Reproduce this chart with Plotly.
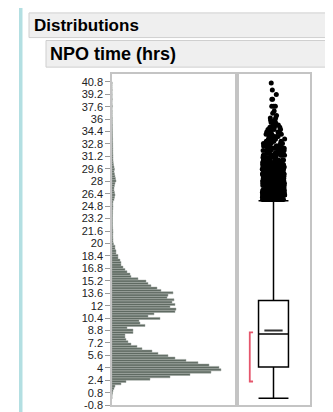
import plotly.graph_objects as go

# ---------------- data ----------------
title_main = "Distributions"
title_var = "NPO time (hrs)"

tick_vals = [-0.8, 0.8, 2.4, 4, 5.6, 7.2, 8.8, 10.4, 12, 13.6, 15.2, 16.8, 18.4, 20,
             21.6, 23.2, 24.8, 26.4, 28, 29.6, 31.2, 32.8, 34.4, 36, 37.6, 39.2, 40.8]
tick_text = ["-0.8", "0.8", "2.4", "4", "5.6", "7.2", "8.8", "10.4", "12", "13.6", "15.2",
             "16.8", "18.4", "20", "21.6", "23.2", "24.8", "26.4", "28", "29.6", "31.2",
             "32.8", "34.4", "36", "37.6", "39.2", "40.8"]

bin_start = 0.0
bin_width = 0.3
hist_counts = [
    0, 0, 5, 10, 20, 30, 90, 140, 380, 580,
    780, 990, 1090, 1070, 970, 860, 740, 630, 560, 460,
    400, 300, 250, 190, 160, 140, 130, 130, 210, 210,
    150, 330, 280, 270, 480, 360, 420, 630, 640, 580,
    630, 600, 620, 550, 560, 610, 490, 450, 390, 360,
    340, 260, 190, 180, 150, 130, 110, 90, 90, 80,
    60, 60, 40, 40, 30, 30, 15, 10, 10, 8,
    8, 10, 8, 6, 5, 5, 5, 5, 5, 6,
    6, 8, 10, 8, 10, 20, 25, 30, 25, 20,
    20, 25, 30, 40, 35, 30, 25, 20, 25, 20,
    15, 12, 10, 10, 10, 8, 8, 8, 7, 7,
    6, 6, 5, 5, 4, 4, 3, 3, 2, 2,
    2, 1, 1, 1, 0, 3, 0, 0, 2, 0,
    1, 0, 1, 0, 0, 1,
]

# box plot summary (hrs)
box_min = 0.1
box_q1 = 4.1
box_median = 8.35
box_q3 = 12.65
box_upper_whisker = 25.5
box_mean = 8.8
shortest_half = [2.24, 8.57]

# ---------------- derived ----------------
bin_centers = [bin_start + bin_width * (i + 0.5) for i in range(len(hist_counts))]
outliers = []
for c, n in zip(bin_centers, hist_counts):
    if c > box_upper_whisker:
        outliers.extend([c] * n)

W, H = 333, 412
def px(x):
    return x / W
def py(y):
    return 1 - y / H

panel_l, panel_mid, panel_r = 104, 229, 302
panel_t, panel_b = 67, 403
border = "#c4c4c4"
font_fam = "Liberation Sans, Arial, sans-serif"

fig = go.Figure()

fig.add_trace(go.Bar(
    y=bin_centers, x=hist_counts, orientation="h",
    marker=dict(color="#5f6a62", line=dict(color="#9aa29c", width=0.5)),
    xaxis="x", yaxis="y", hoverinfo="skip", showlegend=False,
))

fig.add_trace(go.Box(
    x=[0], q1=[box_q1], median=[box_median], q3=[box_q3],
    lowerfence=[box_min], upperfence=[box_upper_whisker],
    width=0.82, whiskerwidth=1, boxpoints=False,
    line=dict(color="black", width=1.5), fillcolor="white",
    xaxis="x2", yaxis="y2", hoverinfo="skip", showlegend=False,
))

fig.add_trace(go.Box(
    y=outliers, x=[0] * len(outliers), width=0.82,
    boxpoints="all", jitter=0.75, pointpos=0,
    marker=dict(color="black", size=5, line=dict(width=0)),
    line=dict(width=0, color="rgba(0,0,0,0)"), fillcolor="rgba(0,0,0,0)",
    xaxis="x2", yaxis="y2", hoverinfo="skip", showlegend=False,
))

# mean mark
fig.add_trace(go.Scatter(
    x=[-0.25, 0.25], y=[box_mean, box_mean], mode="lines",
    line=dict(color="#333333", width=2),
    xaxis="x2", yaxis="y2", hoverinfo="skip", showlegend=False,
))

# shortest half bracket
sx0, sx1 = -0.56, -0.65
fig.add_trace(go.Scatter(
    x=[sx0, sx1, sx1, sx0],
    y=[shortest_half[1], shortest_half[1], shortest_half[0], shortest_half[0]],
    mode="lines", line=dict(color="#e5566c", width=1.8),
    xaxis="x2", yaxis="y2", hoverinfo="skip", showlegend=False,
))

ydom = [py(panel_b), py(panel_t)]
yrange = [-0.8, 41.8]

fig.update_layout(
    width=W, height=H,
    margin=dict(l=0, r=0, t=0, b=0),
    paper_bgcolor="white", plot_bgcolor="white",
    bargap=0.1, boxmode="overlay",
    xaxis=dict(domain=[px(panel_l), px(panel_mid)], range=[0, 1250],
               showgrid=False, zeroline=False, showticklabels=False, ticks="",
               showline=True, mirror=True, linecolor=border, linewidth=1.5,
               anchor="y", fixedrange=True),
    yaxis=dict(domain=ydom, range=yrange, tickvals=tick_vals, ticktext=tick_text,
               ticks="outside", ticklen=5, tickcolor="#999999", tickwidth=1,
               tickfont=dict(family=font_fam, size=11, color="#222222"),
               showgrid=False, zeroline=False,
               showline=True, mirror=True, linecolor=border, linewidth=1.5,
               anchor="x", fixedrange=True),
    xaxis2=dict(domain=[px(panel_mid), px(panel_r)], range=[-1, 1],
                showgrid=False, zeroline=False, showticklabels=False, ticks="",
                showline=True, mirror=True, linecolor=border, linewidth=1.5,
                anchor="y2", fixedrange=True),
    yaxis2=dict(domain=ydom, range=yrange, matches="y",
                showgrid=False, zeroline=False, showticklabels=False, ticks="",
                showline=True, mirror=True, linecolor=border, linewidth=1.5,
                anchor="x2", fixedrange=True),
    shapes=[
        dict(type="rect", xref="paper", yref="paper", x0=px(11), x1=px(14.5), y0=0, y1=1,
             fillcolor="#b3dfe2", line=dict(width=0), layer="below"),
        dict(type="rect", xref="paper", yref="paper", x0=px(21), x1=px(325), y0=py(30), y1=py(5),
             fillcolor="#efefef", line=dict(color="#cfcfcf", width=1)),
        dict(type="rect", xref="paper", yref="paper", x0=px(38), x1=px(322), y0=py(60), y1=py(33),
             fillcolor="#efefef", line=dict(color="#cfcfcf", width=1)),
    ],
    annotations=[
        dict(text="<b>%s</b>" % title_main, xref="paper", yref="paper", x=px(24), y=py(17.5),
             xanchor="left", yanchor="middle", showarrow=False,
             font=dict(family=font_fam, size=17, color="black")),
        dict(text="<b>%s</b>" % title_var, xref="paper", yref="paper", x=px(40), y=py(46.5),
             xanchor="left", yanchor="middle", showarrow=False,
             font=dict(family=font_fam, size=18, color="black")),
    ],
)

fig.write_html("out.html")
